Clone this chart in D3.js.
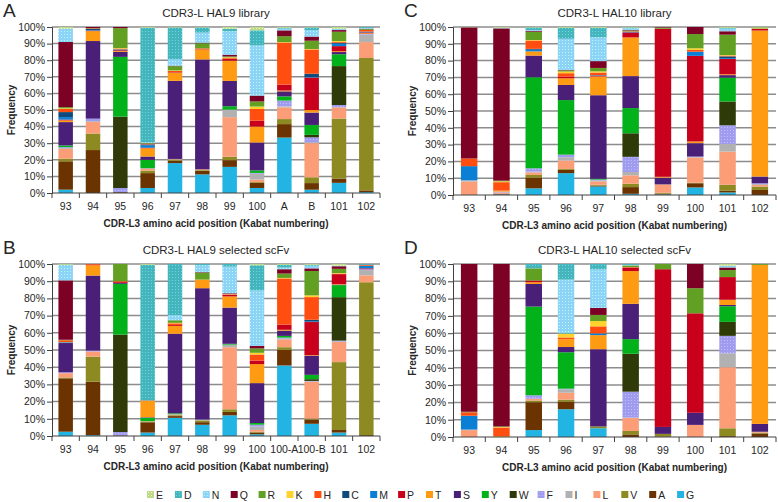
<!DOCTYPE html>
<html><head><meta charset="utf-8">
<script src="https://cdn.jsdelivr.net/npm/d3@7"></script>
<style>
body{margin:0;background:#fff}
svg{display:block}
text{font-family:"Liberation Sans",Arial,sans-serif;fill:#262626}
</style>
</head><body>
<svg id="chart" width="778" height="502"></svg>
<script>
// Amino acids in stacking order (bottom -> top); legend shows reverse order
const stackOrder = ["G","A","V","L","I","F","W","Y","S","T","P","M","C","H","K","R","Q","N","D","E"];
const aaColors = ["#22b5e3","#6b3300","#8c8a21","#fb9e78","#b1b1b1","#9f9cf0","#2e3a07","#03b21b","#4a1f78","#ff9a13",
                  "#c9001c","#0b7fd5","#0f4a7c","#ff4e10","#ffd32c","#61a022","#7d0025","#8ed2f6","#47b4bb","#bfd98c"];
const dotted = ["D","N","E","F"];

const catsA = ["93","94","95","96","97","98","99","100","A","B","101","102"];
const catsB = ["93","94","95","96","97","98","99","100","100-A","100-B","101","102"];
const catsC = ["93","94","95","96","97","98","99","100","101","102"];
const catsD = ["93","94","95","96","97","98","99","100","101","102"];
const yTicks = [0,0.1,0.2,0.3,0.4,0.5,0.6,0.7,0.8,0.9,1];

// rows = categories, columns = stackOrder (percent)
const valuesA = [
 [2,17,1.5,6,0.5,0.5,0,1,14,1,0.5,1.5,3,2,0.3,0.7,39,8,0,1],
 [0,26,10,7,0.5,1.5,0,0,47,6,0.3,0.3,0.7,0.3,0,0.2,0.7,0,0,0],
 [0,0.5,0,0,0,2.5,43,36,3,0.5,0.5,0.5,0,0.5,0.3,12,0.7,0,0,0],
 [3,9,1.5,1,0.5,0,0,5,2,5,0.3,1.5,0.5,0.5,0,0.3,0,0.5,69,0.5],
 [18,1.5,0.5,0.3,0.2,0,0,0,47,5,0.3,0,0,0.7,0.3,2.5,0.3,4,19,0.3],
 [11,2,0.5,0.5,0,0,0,0,65,6,0.3,0,0,0.3,0,3,0.3,6,3,0.3],
 [15.5,4,2,23.5,4.5,0,0,2,15,12,1,0,0,0.5,0.5,0.5,1,14,1.5,1],
 [3,3,0.5,1.5,3.5,0.5,0,1.5,16.7,9.5,3.5,0,0,7,1.5,3,3.5,30,9,2],
 [33,8,3,7,0.5,3.5,0,2.5,3,0.5,3.5,0,0,25,0.3,3.5,3.5,1,0.5,0.5],
 [2,4,3.5,20.7,0.5,3,1.5,6,7.5,1.5,19.7,0.3,2,14.7,0.3,5,2.5,4,1.5,0.3],
 [6,2.5,35.5,6.6,0,1.4,23,7,1.3,0.5,3,1.5,0.5,0.5,0.5,5.5,1,0.5,0.3,1],
 [0.6,1,80.7,9.7,4.4,0.5,0,0,0,0.5,0.5,0.5,0,1,0,0.5,0.3,0.5,0.5,0]
];
const valuesB = [
 [2.5,31,0.5,2.5,0,0.5,0,0,17,0.3,0,0.3,0,1,0,0.3,34.5,9,0,0.5],
 [0.5,31,14.5,3,0,0.5,0,0,43.5,6,0.3,0,0,0.4,0,0,0,0,0,0],
 [0,0.3,0,0,0,2,56.5,29.5,0.5,0,0.5,0,0,0.5,0,10,0,0,0,0],
 [2,6,0.3,0.3,0,0,0,2,0.3,9.5,0,0,0,0.3,0,0,0,0,79,0.5],
 [10.5,1,0.5,0.3,0.3,0,0,0.5,46,4.5,0.5,0,0,1,0.3,1.5,0,3,29.5,0],
 [6.5,1.5,1,0,0.5,0,0,0,76,5,0,0,0,0,0,4,0.3,4,0.7,0],
 [12,2,1.5,36,1.5,0,0,0.5,21,6.5,1,0,0,0,0.3,0,0.5,15.5,1.5,0],
 [1,1,0.5,1,2,1,0,1,23,11,2,0,0,3.5,1,2.5,1.5,32,14.5,0.7],
 [40.5,9,1.5,4.5,0.5,0.5,0,1,3,0.5,3,0,0,26.5,0.3,2.5,2.5,1,1.5,0.5],
 [7,2.5,0.5,21,0.3,0.3,1,2.5,11,0.3,19,0.3,1,13,1,14,1.5,1.5,0.5,0.5],
 [2,1.5,39.5,11.7,0.3,0.5,25.3,7,0.3,0.3,5.8,0,0,0.3,0.3,2.5,1.5,0.3,0,1],
 [0,0.5,88,4,3,0.5,0,0,0,0,0.5,1.5,0,0.5,0,0,0,0,0.5,0]
];
const valuesC = [
 [0,0,0,8,0.8,0,0,0,0,0,0,8.2,0.3,4.5,0,0,78.3,0,0,0.2],
 [0.3,0.5,0,0.7,0,0.5,0,0,0,0.6,0,0,0,5,0.5,0.4,90.3,0.3,0,0.5],
 [4,6.5,1.5,1.5,0.5,2,0,54.5,13,2.5,0,1,0.5,5,0.3,5,0.5,0.5,1.5,0.3],
 [13,2,0.5,5,2,1.5,0,32.5,9,4,1,0,0,2,1,0.7,0.3,18.5,6.5,0.5],
 [5,0.5,0.5,2,0.5,0.5,0,0.5,49,11,0.5,0.3,0,1.5,0.7,2,4,14,5.5,0.5],
 [0.7,4,2,5,2,9,14,15,19,23,3,0.3,0,0.3,0,0.5,0.3,1,0.5,0.3],
 [0.3,0.5,0.5,5,0,0,0,0,4,0.5,88,0,0,0,0,0.7,0.3,0,0,0],
 [4.5,2.5,0.3,15,0.3,0.3,0,0,8,1,51,2.5,0,1,1,8.5,4.2,0,0,0],
 [1.5,1,3.5,19.5,4.5,11,14,14,1.5,0.5,9,0.5,1,0.5,0.3,12,2,1.5,0.5,0.5],
 [0,3,2,1,0.5,0.5,0,0,4,87,1,0,0,0,0.3,0.5,0,0,0,0.3]
];
const valuesD = [
 [0,0,0,4,0.3,0,0,0,0,0,0,8,0,2,0,0.3,85.5,0,0,0],
 [0,0,0,0,0,0,0,0,0,0.5,0,0,0,5,0.3,0.3,94,0,0,0],
 [4,16,1,1,0,2,0,51,13,1,1,0,0,0,0,7,0,0,2.5,0],
 [16,4.5,1,4,2,0.3,0,21,3,4.5,0,0,0,1,2,0.3,0,31,9,0],
 [5,0,1,0,0,0,0,0,44,8,0,1,0,4,3,3.5,4,22,3,0],
 [0,1.5,2,7.5,0.3,15,22,8.5,20.5,19,2,0,0,0.3,0,1,0,0.3,0.5,0],
 [0,0.3,1.5,0,0,0,0,0,4,0,91,0,0,0,0,3,0,0,0,0],
 [0,0,0,7,0,0,0,0,7,0,57.5,0,0,0,0,14.5,14,0,0,0],
 [0,0.5,4.5,35,8,10,8,9,0.7,3,13,0,0,0,0,4,1.5,1,0,1],
 [0,2,0.5,0.5,0,0,0,0,4.5,91,0,0,0,0,0,0.5,0,0,0,0]
];

const svg = d3.select("#chart");
const defs = svg.append("defs");
const colorOf = d3.scaleOrdinal().domain(stackOrder).range(aaColors);
stackOrder.forEach(aa => {
  if (!dotted.includes(aa)) return;
  const base = colorOf(aa);
  const pat = defs.append("pattern").attr("id","pat-"+aa)
    .attr("patternUnits","userSpaceOnUse").attr("width",3).attr("height",3);
  pat.append("rect").attr("width",3).attr("height",3).attr("fill",base);
  pat.append("rect").attr("x",1).attr("y",1).attr("width",1).attr("height",1)
    .attr("fill",d3.color(base).brighter(0.6).formatHex());
});
const fillOf = aa => dotted.includes(aa) ? "url(#pat-"+aa+")" : colorOf(aa);

const panels = [
 {letter:"A", title:"CDR3-L HAL9 library",       cats:catsA, values:valuesA, l:52,  r:380, t:27,  b:193, pad:0.47},
 {letter:"B", title:"CDR3-L HAL9 selected scFv", cats:catsB, values:valuesB, l:52,  r:380, t:264, b:436, pad:0.47},
 {letter:"C", title:"CDR3-L HAL10 library",      cats:catsC, values:valuesC, l:453, r:776, t:27,  b:195, pad:0.49},
 {letter:"D", title:"CDR3-L HAL10 selected scFv",cats:catsD, values:valuesD, l:453, r:776, t:264, b:437, pad:0.49}
];

panels.forEach(p => {
  const g = svg.append("g");
  const x = d3.scaleBand().domain(p.cats).range([p.l, p.r]).paddingInner(p.pad).paddingOuter(p.pad/2);
  const y = d3.scaleLinear().domain([0,1]).range([p.b, p.t]);
  const rows = p.cats.map((c,i) => { const o = {cat:c}; stackOrder.forEach((aa,j)=> o[aa]=p.values[i][j]); return o; });
  const series = d3.stack().keys(stackOrder).offset(d3.stackOffsetExpand)(rows);

  g.append("g").selectAll("line").data(yTicks.slice(1)).join("line")
    .attr("x1",p.l).attr("x2",p.r).attr("y1",d=>y(d)).attr("y2",d=>y(d))
    .attr("stroke","#8c8c8c").attr("stroke-width",1.5);

  g.append("g").selectAll("g").data(series).join("g")
    .attr("fill", s => fillOf(s.key))
    .selectAll("rect").data(s => s).join("rect")
    .attr("x", d => x(d.data.cat)).attr("width", x.bandwidth())
    .attr("y", d => y(d[1])).attr("height", d => Math.max(0, y(d[0]) - y(d[1])));

  const ya = g.append("g").attr("transform",`translate(${p.l},0)`)
    .call(d3.axisLeft(y).tickValues(yTicks).tickFormat(d3.format(".0%")).tickSize(5).tickPadding(2));
  ya.select(".domain").attr("stroke","#404040");
  ya.selectAll(".tick line").attr("stroke","#404040");
  ya.selectAll("text").style("font-size","10.5px").attr("fill","#262626");

  const xa = g.append("g").attr("transform",`translate(0,${p.b})`)
    .call(d3.axisBottom(x).tickSize(0).tickPadding(10));
  xa.select(".domain").attr("stroke","#404040").attr("d",`M${p.l},0H${p.r}`);
  xa.selectAll("text").style("font-size","10.5px").attr("fill","#262626");
  const bounds = p.cats.map(c => x(c) + x.bandwidth()/2 - x.step()/2).concat([p.r]);
  xa.append("g").selectAll("line").data(bounds).join("line")
    .attr("x1",d=>d).attr("x2",d=>d).attr("y1",0).attr("y2",5).attr("stroke","#404040");

  g.append("text").attr("x", p.l - 49).attr("y", p.t - 10).style("font-size","19px").text(p.letter);
  g.append("text").attr("x",(p.l+p.r)/2).attr("y",p.t-10).attr("text-anchor","middle").style("font-size","11.5px").text(p.title);
  g.append("text").attr("x",(p.l+p.r)/2).attr("y",p.b+34).attr("text-anchor","middle")
    .style("font-size","10px").style("font-weight","bold").text("CDR-L3 amino acid position (Kabat numbering)");
  g.append("text").attr("transform",`translate(${p.l-37},${(p.t+p.b)/2}) rotate(-90)`).attr("text-anchor","middle")
    .style("font-size","10px").style("font-weight","bold").text("Frequency");
});

const legendOrder = stackOrder.slice().reverse();
const lx = d3.scalePoint().domain(legendOrder).range([147, 147 + 27.9*19]);
const lg = svg.append("g").selectAll("g").data(legendOrder).join("g")
  .attr("transform", d => `translate(${lx(d)},491)`);
lg.append("rect").attr("width",7).attr("height",7).attr("fill", d => fillOf(d));
lg.append("text").attr("x",9).attr("y",7.5).style("font-size","10.5px").text(d => d);
</script>
</body></html>
